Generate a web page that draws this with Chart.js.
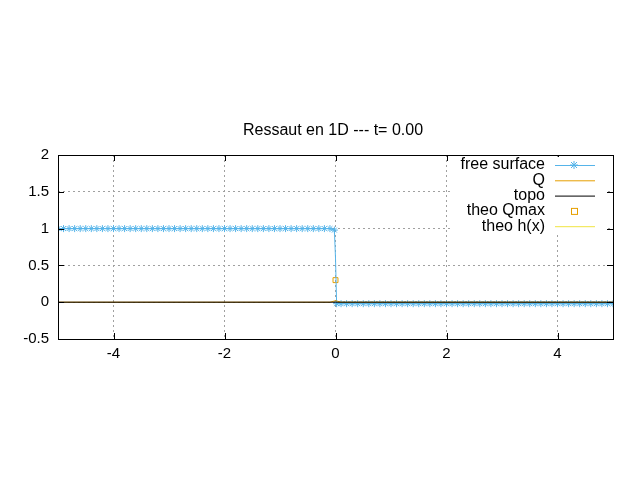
<!DOCTYPE html>
<html>
<head>
<meta charset="UTF-8">
<script src="https://cdn.jsdelivr.net/npm/chart.js@4"></script>
<style>
  * { margin: 0; padding: 0; }
  body { background: #fff; }
  #wrap { width: 640px; height: 480px; }
</style>
</head>
<body>
<div id="wrap"><canvas id="c"></canvas></div>
<script>
const surfX = [-5,-4.9,-4.8,-4.7,-4.6,-4.5,-4.4,-4.3,-4.2,-4.1,-4,-3.9,-3.8,-3.7,-3.6,-3.5,-3.4,-3.3,-3.2,-3.1,-3,-2.9,-2.8,-2.7,-2.6,-2.5,-2.4,-2.3,-2.2,-2.1,-2,-1.9,-1.8,-1.7,-1.6,-1.5,-1.4,-1.3,-1.2,-1.1,-1,-0.9,-0.8,-0.7,-0.6,-0.5,-0.4,-0.3,-0.2,-0.1,-0.02,0,0.02,0.1,0.2,0.3,0.4,0.5,0.6,0.7,0.8,0.9,1,1.1,1.2,1.3,1.4,1.5,1.6,1.7,1.8,1.9,2,2.1,2.2,2.3,2.4,2.5,2.6,2.7,2.8,2.9,3,3.1,3.2,3.3,3.4,3.5,3.6,3.7,3.8,3.9,4,4.1,4.2,4.3,4.4,4.5,4.6,4.7,4.8,4.9,5];
const surfY = [1,1,1,1,1,1,1,1,1,1,1,1,1,1,1,1,1,1,1,1,1,1,1,1,1,1,1,1,1,1,1,1,1,1,1,1,1,1,1,1,1,1,1,1,1,1,1,1,1,1,0.98,0.6,-0.02,-0.02,-0.02,-0.02,-0.02,-0.02,-0.02,-0.02,-0.02,-0.02,-0.02,-0.02,-0.02,-0.02,-0.02,-0.02,-0.02,-0.02,-0.02,-0.02,-0.02,-0.02,-0.02,-0.02,-0.02,-0.02,-0.02,-0.02,-0.02,-0.02,-0.02,-0.02,-0.02,-0.02,-0.02,-0.02,-0.02,-0.02,-0.02,-0.02,-0.02,-0.02,-0.02,-0.02,-0.02,-0.02,-0.02,-0.02,-0.02,-0.02,-0.02];
const qX = [-5,-0.1,0,0.1,5];
const qY = [0,0,0.02,0,0];
const topoX = [-5,5];
const topoY = [0,0];
const qmaxX = [0];
const qmaxY = [0.3];
const xTicks = [-4,-2,0,2,4];
const yTicks = [-0.5,0,0.5,1,1.5,2];
const legendLabels = ['free surface','Q','topo','theo Qmax','theo h(x)'];
const titleText = 'Ressaut en 1D --- t= 0.00';

const pts = (xs, ys) => xs.map((x, i) => ({ x, y: ys[i] }));
const FONT = '"Liberation Sans", Arial, sans-serif';

const frame = {
  id: 'frame',
  afterDraw(chart) {
    const { ctx, chartArea: a, scales } = chart;
    ctx.save();
    ctx.strokeStyle = '#000'; ctx.lineWidth = 1;
    ctx.strokeRect(a.left + 0.5, a.top + 0.5, a.right - a.left, a.bottom - a.top);
    ctx.beginPath();
    xTicks.forEach(v => { const p = Math.round(scales.x.getPixelForValue(v)) + 0.5;
      ctx.moveTo(p, a.bottom); ctx.lineTo(p, a.bottom - 6); ctx.moveTo(p, a.top); ctx.lineTo(p, a.top + 6); });
    yTicks.forEach(v => { const p = Math.round(scales.y.getPixelForValue(v)) + 0.5;
      ctx.moveTo(a.left, p); ctx.lineTo(a.left + 6, p); ctx.moveTo(a.right, p); ctx.lineTo(a.right - 6, p); });
    ctx.stroke();
    ctx.fillStyle = '#000'; ctx.font = '16px ' + FONT;
    ctx.textAlign = 'center'; ctx.textBaseline = 'middle';
    ctx.fillText(titleText, 333, 131);
    // gnuplot style key
    ctx.fillStyle = '#fff';
    ctx.fillRect(452, 157, 153, 78);
    const colors = ['#56b4e9', '#e69f00', '#000000', '#e69f00', '#f0e442'];
    ctx.textAlign = 'right';
    legendLabels.forEach((t, i) => {
      const y = 165 + i * 15.3;
      ctx.fillStyle = '#000'; ctx.fillText(t, 545, y);
      ctx.strokeStyle = colors[i];
      if (i === 3) { ctx.strokeRect(571.5, y - 2.5, 6, 6); return; }
      ctx.beginPath(); ctx.moveTo(555, y + 0.5); ctx.lineTo(595, y + 0.5); ctx.stroke();
      if (i === 0) {
        ctx.beginPath();
        ctx.moveTo(570, y); ctx.lineTo(578, y); ctx.moveTo(574, y - 4); ctx.lineTo(574, y + 4);
        ctx.moveTo(571, y - 3); ctx.lineTo(577, y + 3); ctx.moveTo(577, y - 3); ctx.lineTo(571, y + 3);
        ctx.stroke();
      }
    });
    ctx.restore();
  }
};

new Chart(document.getElementById('c'), {
  type: 'scatter',
  data: {
    datasets: [
      { label: 'topo', data: pts(topoX, topoY), showLine: true, borderColor: '#000', borderWidth: 1, pointRadius: 0 },
      { label: 'Q', data: pts(qX, qY), showLine: true, borderColor: '#e69f00', borderWidth: 1, pointRadius: 0 },
      { label: 'free surface', data: pts(surfX, surfY), showLine: true, borderColor: '#56b4e9', borderWidth: 1,
        pointStyle: 'star', pointRadius: surfY.map(v => (v > 0.05 && v < 0.95 ? 0 : 3.5)),
        pointBorderColor: '#56b4e9', pointBorderWidth: 1 },
      { label: 'theo Qmax', data: pts(qmaxX, qmaxY), pointStyle: 'rect', pointRadius: 3.5, borderColor: '#e69f00',
        backgroundColor: 'rgba(0,0,0,0)', pointBorderWidth: 1 },
      { label: 'theo h(x)', data: [], showLine: true, borderColor: '#f0e442', borderWidth: 1, pointRadius: 0 }
    ]
  },
  options: {
    responsive: true, maintainAspectRatio: false, animation: false,
    layout: { padding: { top: 155, right: 27, bottom: 119, left: 0 } },
    plugins: { legend: { display: false }, tooltip: { enabled: false } },
    scales: {
      x: { type: 'linear', min: -5, max: 5,
        afterFit: s => { s.height = 22; },
        afterBuildTicks: s => { s.ticks = xTicks.map(v => ({ value: v })); },
        grid: { color: '#a0a0a0', lineWidth: 1, tickLength: 0, drawTicks: false },
        border: { display: false, dash: [2, 3] },
        ticks: { color: '#000', font: { family: FONT, size: 15 }, padding: 6, maxRotation: 0 } },
      y: { min: -0.5, max: 2,
        afterFit: s => { s.width = 58; },
        afterBuildTicks: s => { s.ticks = yTicks.map(v => ({ value: v })); },
        grid: { color: '#a0a0a0', drawTicks: false },
        border: { display: false, dash: [2, 3] },
        ticks: { color: '#000', font: { family: FONT, size: 15 }, padding: 9,
          callback: v => (Number.isInteger(v) ? String(v) : v.toFixed(1)) } }
    }
  },
  plugins: [frame]
});
</script>
</body>
</html>
